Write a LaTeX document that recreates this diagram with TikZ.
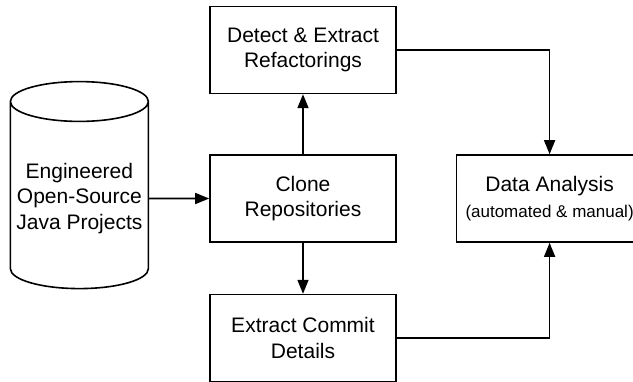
\documentclass[tikz,border=0pt]{standalone}
\usepackage{fontspec}
\setmainfont{Liberation Sans}
\usepackage{tikz}
\usetikzlibrary{shapes.geometric, arrows.meta}
\tikzstyle{stage} = [rectangle, minimum width=186pt, minimum height=87pt, text centered, align=center, draw=black, line width=1.6pt, font=\fontsize{21}{25.5}\selectfont]
\tikzstyle{store} = [cylinder, shape border rotate=90, aspect=0.3, minimum width=138pt, minimum height=207pt, text centered, align=center, draw=black, line width=1.6pt, font=\fontsize{21}{25.5}\selectfont]
\tikzstyle{flow} = [line width=1.6pt, -{Triangle[length=14pt,width=11pt]}]
\usetikzlibrary{positioning}

\begin{document}
\begin{tikzpicture}[x=1pt, y=1pt, node distance=60pt]
        \useasboundingbox (0,0) rectangle (633,-381);
        \node[stage] (clone) at (303,-198.5) {Clone\\Repositories};
        \node[stage, above=60pt of clone] (detect) {Detect \& Extract\\Refactorings};
        \node[stage, below=51pt of clone] (commit) {Extract Commit\\Details};
        \node[store, left=60pt of clone] (projects) {Engineered\\Open-Source\\Java Projects};
        \node[stage, right=59pt of clone] (analysis) {Data Analysis\\{\fontsize{17}{21}\selectfont (automated \& manual)}};

        \draw[flow] (projects) -- (clone);
        \draw[flow] (clone) -- (detect);
        \draw[flow] (clone) -- (commit);
        \draw[flow] (detect.east) -| (analysis.north);
        \draw[flow] (commit.east) -| (analysis.south);
    \end{tikzpicture}
\end{document}
